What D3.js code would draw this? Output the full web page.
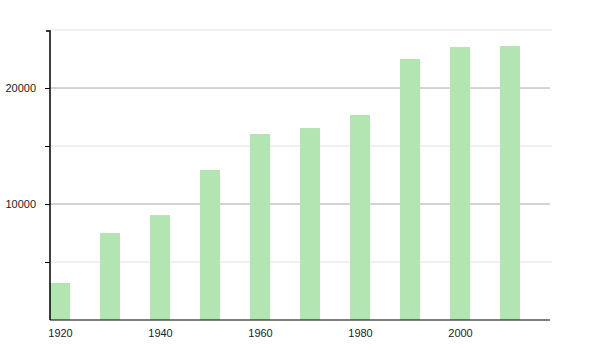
<!doctype html>
<html>
<head>
    <script src="https://d3js.org/d3.v7.min.js"></script>
    <style>
        body { margin: 0; background: #fff; }
        text { font-family: "Liberation Sans", Arial, sans-serif; font-size: 11px; fill: #222; }
    </style>
</head>
<body>
    <svg width="600" height="350"></svg>
    <script>
        var years = [1920, 1930, 1940, 1950, 1960, 1970, 1980, 1990, 2000, 2010];
        var population = [3190, 7500, 9050, 12930, 16030, 16550, 17670, 22500, 23530, 23620];
        var xTicks = [1920, 1940, 1960, 1980, 2000];
        var yMajor = [10000, 20000];
        var yMinor = [5000, 15000, 25000];

        var svg = d3.select("svg");

        var x = d3.scaleLinear().domain([1920, 2020]).range([50, 550]);
        var y = d3.scaleLinear().domain([0, 25000]).range([320, 30]);

        // grid lines
        svg.selectAll("line.minor")
            .data(yMinor)
            .enter().append("line")
            .attr("x1", 50).attr("x2", 552)
            .attr("y1", function (d) { return y(d); })
            .attr("y2", function (d) { return y(d); })
            .attr("stroke", "#e2e2e2");

        svg.selectAll("line.major")
            .data(yMajor)
            .enter().append("line")
            .attr("x1", 50).attr("x2", 550)
            .attr("y1", function (d) { return y(d); })
            .attr("y2", function (d) { return y(d); })
            .attr("stroke", "#a8a8a8");

        // bars
        svg.selectAll("rect")
            .data(years)
            .enter().append("rect")
            .attr("x", function (d) { return x(d); })
            .attr("width", function (d) { return x(d + 4) - x(d); })
            .attr("y", function (d, i) { return y(population[i]); })
            .attr("height", function (d, i) { return y(0) - y(population[i]); })
            .attr("fill", "#b3e5b3");

        // y axis
        var yAxis = d3.axisLeft(y)
            .tickValues(yMajor.concat(yMinor.filter(function (d) { return d < 25000; })))
            .tickFormat(function (d) { return d % 10000 === 0 ? d : ""; })
            .tickSize(5)
            .tickPadding(9);

        var gy = svg.append("g")
            .attr("transform", "translate(50,0)")
            .call(yAxis);
        gy.select(".domain").attr("d", "M-4,31H0V320").attr("stroke", "#000").attr("stroke-width", 1.5);
        gy.selectAll("line").attr("stroke", "#000");
        gy.selectAll("text").attr("font-family", "Liberation Sans, Arial, sans-serif").attr("font-size", 11).attr("fill", "#222");

        // x axis
        var xAxis = d3.axisBottom(x)
            .tickValues(xTicks)
            .tickFormat(d3.format("d"))
            .tickSize(0)
            .tickPadding(9);

        var gx = svg.append("g")
            .attr("transform", "translate(0,320)")
            .call(xAxis);
        gx.select(".domain").attr("d", "M50,0H550").attr("stroke", "#000").attr("stroke-width", 1.2);
        gx.selectAll("text")
            .attr("dx", x(1922) - x(1920))
            .attr("font-family", "Liberation Sans, Arial, sans-serif").attr("font-size", 11).attr("fill", "#222");
    </script>
</body>
</html>
